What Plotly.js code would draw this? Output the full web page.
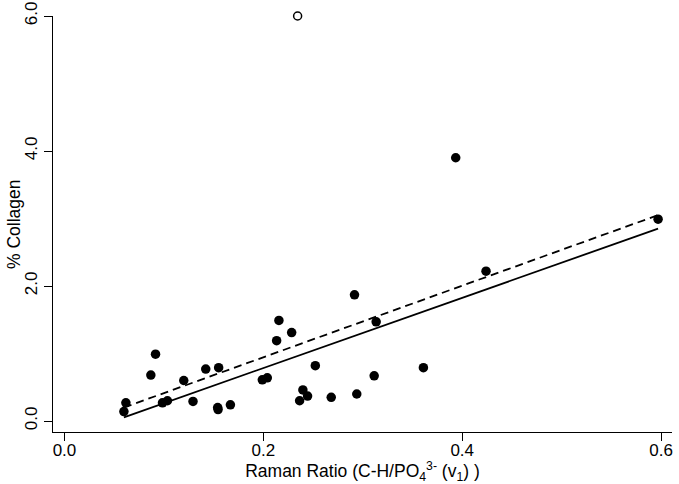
<!DOCTYPE html>
<html>
<head>
<meta charset="utf-8">
<script src="https://cdn.plot.ly/plotly-3.0.1.min.js"></script>
<style>html,body{margin:0;padding:0;background:#fff;}#chart{width:679px;height:484px;}</style>
</head>
<body>
<div id="chart"></div>
<script>
// Filled points (Raman ratio vs % collagen)
var ramanRatio = [0.0598, 0.0618, 0.0869, 0.0916, 0.0986, 0.1036, 0.120, 0.1293, 0.1421, 0.1551,
  0.1541, 0.1545, 0.1669, 0.199, 0.204, 0.2134, 0.2157, 0.2285, 0.2365, 0.2398,
  0.2445, 0.2523, 0.2683, 0.2917, 0.294, 0.3115, 0.3135, 0.361, 0.3935, 0.424, 0.597];
var collagen = [0.14, 0.27, 0.68, 0.99, 0.27, 0.30, 0.60, 0.29, 0.77, 0.79,
  0.20, 0.17, 0.24, 0.61, 0.64, 1.19, 1.49, 1.31, 0.30, 0.46,
  0.37, 0.82, 0.35, 1.87, 0.40, 0.67, 1.47, 0.79, 3.90, 2.22, 2.99];
// Outlier (open circle)
var outlierX = [0.2345];
var outlierY = [6.0];
// Regression lines
var fitX = [0.0598, 0.597];
var fitSolidY = [0.055, 2.85];
var fitDashedY = [0.20, 3.05];
// Tick labels
var xTickVals = [0, 0.2, 0.4, 0.6];
var xTickText = ["0.0", "0.2", "0.4", "0.6"];
var yTickVals = [0, 2, 4, 6];
var yTickText = ["0.0", "2.0", "4.0", "6.0"];

var FONT = "Liberation Sans, Arial, Helvetica, sans-serif";

var traces = [
  {x: fitX, y: fitDashedY, mode: "lines", line: {color: "#000", width: 1.8, dash: "8px,5px"}, hoverinfo: "skip"},
  {x: fitX, y: fitSolidY, mode: "lines", line: {color: "#000", width: 1.8}, hoverinfo: "skip"},
  {x: ramanRatio, y: collagen, mode: "markers", marker: {color: "#000", size: 9.5}, cliponaxis: false},
  {x: outlierX, y: outlierY, mode: "markers", marker: {color: "#fff", size: 8, line: {color: "#000", width: 1.5}}, cliponaxis: false}
];

var layout = {
  width: 679, height: 484,
  margin: {l: 53, r: 7, t: 16, b: 52, pad: 0},
  paper_bgcolor: "#fff", plot_bgcolor: "#fff",
  showlegend: false,
  font: {family: FONT, color: "#000", size: 17},
  xaxis: {
    range: [-0.0115, 0.611], showgrid: false, zeroline: false,
    showline: true, linecolor: "#000", linewidth: 1,
    ticks: "outside", ticklen: 8, tickwidth: 1, tickcolor: "#000",
    tickvals: xTickVals, ticktext: xTickText, ticklabelstandoff: -5,
    tickfont: {family: FONT, size: 17, color: "#000"},
    title: {text: "Raman Ratio (C-H/PO<sub>4</sub><sup>3-</sup> (v<sub>1</sub>) )", font: {family: FONT, size: 17.5, color: "#000"}, standoff: 9},
    automargin: false
  },
  yaxis: {
    range: [-0.163, 6.0], showgrid: false, zeroline: false,
    showline: true, linecolor: "#000", linewidth: 1,
    ticks: "outside", ticklen: 8, tickwidth: 1, tickcolor: "#000",
    tickvals: yTickVals, ticktext: yTickText, tickangle: -90,
    tickfont: {family: FONT, size: 17, color: "#000"},
    automargin: false
  },
  annotations: [{
    text: "% Collagen", xref: "paper", yref: "paper", x: -0.063, y: 0.5,
    xanchor: "center", yanchor: "middle", textangle: -90, showarrow: false,
    font: {family: FONT, size: 17.5, color: "#000"}
  }]
};

Plotly.newPlot("chart", traces, layout, {staticPlot: true, displayModeBar: false});
</script>
</body>
</html>
